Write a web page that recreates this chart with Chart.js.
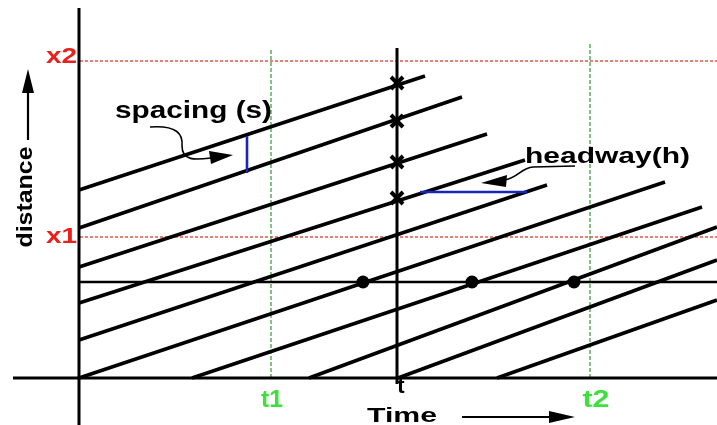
<!DOCTYPE html>
<html>
<head>
<meta charset="utf-8">
<script src="https://cdn.jsdelivr.net/npm/chart.js@4/dist/chart.umd.min.js"></script>
<style>
html,body{margin:0;padding:0;background:#fff;}
#wrap{width:717px;height:425px;}
canvas{display:block;}
</style>
</head>
<body>
<div id="wrap"><canvas id="c" width="717" height="425"></canvas></div>
<script>
// ---- data (time units, distance units) ----
const vehStartT = [0, 0, 0, 0, 0, 0, 11.3, 23.0, 31.9, 41.8];
const vehStartD = [18.8, 15.0, 11.1, 7.5, 3.8, 0, 0, 0, 0, 0];
const vehEndT   = [34.6, 38.3, 40.8, 44.6, 46.8, 58.6, 62.3, 63.8, 63.8, 63.8];
const vehEndD   = [30.2, 28.1, 24.4, 21.8, 19.3, 19.6, 17.1, 15.1, 11.8, 7.8];

const timeLabels = ['t1', 't', 't2'];
const timeValues = [19.2, 31.8, 51.1];
const distLabels = ['x1', 'x2'];
const distValues = [14.1, 31.7];

const refDistance = 9.6;              // horizontal observation line
const dotTimes = [28.4, 39.3, 49.5];  // crossings of the observation line
const crossDists = [29.5, 25.7, 21.6, 18.0]; // crossings at time t

const spacingT = 16.8;
const spacingD = [20.5, 24.2];
const headwayD = 18.6;
const headwayT = [34.1, 44.8];

const timeRange = [-7.9, 63.8];
const distRange = [-4.7, 37.8];
const axisTimeExtent = [-6.6, 63.8];
const axisDistExtent = [-4.7, 37.0];
const markerTop = [33.0, 33.0, 33.5]; // top of the t-lines (t1, t, t2)

// ---- datasets ----
const datasets = [];
const lineDs = (pts, color, width, dash, order) => ({
  type: 'line', data: pts, borderColor: color, borderWidth: width,
  borderDash: dash || [], pointRadius: 0, fill: false, tension: 0,
  showLine: true, order: order, borderCapStyle: 'butt'
});

// axes
datasets.push(lineDs([{x: axisTimeExtent[0], y: 0}, {x: axisTimeExtent[1], y: 0}], '#000', 3, null, 5));
datasets.push(lineDs([{x: 0, y: axisDistExtent[0]}, {x: 0, y: axisDistExtent[1]}], '#000', 3, null, 5));

// reference distance lines x1, x2 (red dashed)
distValues.forEach(v => datasets.push(lineDs([{x: 0.1, y: v}, {x: timeRange[1], y: v}], '#e2554a', 1.3, [3, 2], 9)));

// time lines t1, t2 (green dashed), t (black)
timeValues.forEach((v, i) => {
  if (timeLabels[i] === 't') {
    datasets.push(lineDs([{x: v, y: -0.6}, {x: v, y: markerTop[i]}], '#000', 3, null, 4));
  } else {
    datasets.push(lineDs([{x: v, y: 0}, {x: v, y: markerTop[i]}], '#2f9a2f', 1.2, [4, 2], 8));
  }
});

// observation line
datasets.push(lineDs([{x: 0, y: refDistance}, {x: timeRange[1], y: refDistance}], '#000', 2.4, null, 6));

// vehicle trajectories
vehStartT.forEach((t0, i) => {
  datasets.push(lineDs([{x: t0, y: vehStartD[i]}, {x: vehEndT[i], y: vehEndD[i]}], '#000', 3.6, null, 3));
});

// spacing & headway (blue)
datasets.push(lineDs([{x: spacingT, y: spacingD[0]}, {x: spacingT, y: spacingD[1]}], '#1c24b8', 2.6, null, 2));
datasets.push(lineDs([{x: headwayT[0], y: headwayD}, {x: headwayT[1], y: headwayD}], '#1c24b8', 2.6, null, 2));

// dots on observation line
datasets.push({type: 'scatter', data: dotTimes.map(t => ({x: t, y: refDistance})),
  pointRadius: 6.5, pointBackgroundColor: '#000', pointBorderColor: '#000', pointBorderWidth: 0, showLine: false, order: 1});
// crosses at time t
datasets.push({type: 'scatter', data: crossDists.map(d => ({x: timeValues[1], y: d})),
  pointStyle: 'crossRot', pointRadius: 8.5, pointBorderColor: '#000', pointBorderWidth: 4, showLine: false, order: 1});

// ---- annotation plugin ----
const FONT = '"Liberation Sans", Arial, sans-serif';
function txt(ctx, s, x, y, size, color, width, align, base) {
  ctx.save();
  ctx.font = 'bold ' + size + 'px ' + FONT;
  ctx.fillStyle = color;
  ctx.textBaseline = base || 'alphabetic';
  const w = ctx.measureText(s).width;
  const sx = width ? width / w : 1;
  ctx.translate(x, y);
  ctx.scale(sx, 1);
  let ox = 0;
  if (align === 'center') ox = -w / 2;
  else if (align === 'right') ox = -w;
  ctx.fillText(s, ox, 0);
  ctx.restore();
}
function head(ctx, tip, b1, b2) {
  ctx.beginPath(); ctx.moveTo(tip[0], tip[1]); ctx.lineTo(b1[0], b1[1]); ctx.lineTo(b2[0], b2[1]); ctx.closePath(); ctx.fill();
}

const annot = {
  id: 'annot',
  afterDatasetsDraw(chart) {
    const ctx = chart.ctx;
    const xs = chart.scales.x, ys = chart.scales.y;
    const X = v => xs.getPixelForValue(v), Y = v => ys.getPixelForValue(v);
    const x0 = X(0), y0 = Y(0);

    // distance labels
    distLabels.forEach((l, i) => {
      const off = l === 'x2' ? -4 : 0;
      txt(ctx, l, x0 - 2, Y(distValues[i]) + off, 22, '#e8211c', 31, 'right', 'middle');
    });
    // time labels
    timeLabels.forEach((l, i) => {
      if (l === 't') txt(ctx, l, X(timeValues[i]) + 4, y0 + 15, 22, '#000', null, 'center');
      else txt(ctx, l, X(timeValues[i]) + (l === 't2' ? 6 : 1), y0 + 29, 23, '#3ee03e', l === 't2' ? 27 : 22, 'center');
    });

    // axis titles
    txt(ctx, 'Time', x0 + 288, y0 + 44, 21, '#000', 70, 'left');
    ctx.save();
    ctx.strokeStyle = '#000'; ctx.fillStyle = '#000'; ctx.lineWidth = 2.2;
    ctx.beginPath(); ctx.moveTo(x0 + 383, y0 + 39); ctx.lineTo(x0 + 475, y0 + 39); ctx.stroke();
    head(ctx, [x0 + 496, y0 + 39], [x0 + 470, y0 + 33], [x0 + 470, y0 + 45]);
    ctx.restore();

    ctx.save();
    ctx.translate(x0 - 53, Y(18.1));
    ctx.rotate(-Math.PI / 2);
    txt(ctx, 'distance', 0, 0, 22, '#000', 101, 'center', 'middle');
    ctx.restore();
    ctx.save();
    ctx.strokeStyle = '#000'; ctx.fillStyle = '#000'; ctx.lineWidth = 2.2;
    ctx.beginPath(); ctx.moveTo(x0 - 51, y0 - 238); ctx.lineTo(x0 - 51, y0 - 290); ctx.stroke();
    head(ctx, [x0 - 51, y0 - 309], [x0 - 57, y0 - 285], [x0 - 45, y0 - 285]);
    ctx.restore();

    // spacing label and curved arrow
    const sA = [X(spacingT), Y(spacingD[1])];
    txt(ctx, 'spacing (s)', sA[0] - 132, sA[1] - 18, 23, '#000', 157, 'left');
    ctx.save();
    ctx.strokeStyle = '#000'; ctx.fillStyle = '#000'; ctx.lineWidth = 1.6;
    ctx.beginPath();
    ctx.moveTo(sA[0] - 97, sA[1] - 9);
    ctx.bezierCurveTo(sA[0] - 70, sA[1] - 11, sA[0] - 64, sA[1] - 2, sA[0] - 65, sA[1] + 10);
    ctx.bezierCurveTo(sA[0] - 65, sA[1] + 25, sA[0] - 52, sA[1] + 24, sA[0] - 36, sA[1] + 22);
    ctx.stroke();
    head(ctx, [sA[0] - 14, sA[1] + 19], [sA[0] - 38, sA[1] + 15], [sA[0] - 36, sA[1] + 28]);
    ctx.restore();

    // headway label and curved arrow
    const hA = [X(headwayT[1]), Y(headwayD)];
    txt(ctx, 'headway(h)', hA[0] - 2, hA[1] - 29, 22, '#000', 165, 'left');
    ctx.save();
    ctx.strokeStyle = '#000'; ctx.fillStyle = '#000'; ctx.lineWidth = 1.6;
    ctx.beginPath();
    ctx.moveTo(hA[0] + 48, hA[1] - 26);
    ctx.lineTo(hA[0] + 6, hA[1] - 25);
    ctx.bezierCurveTo(hA[0] - 6, hA[1] - 24, hA[0] - 8, hA[1] - 15, hA[0] - 22, hA[1] - 12);
    ctx.stroke();
    head(ctx, [hA[0] - 46, hA[1] - 9], [hA[0] - 20, hA[1] - 17], [hA[0] - 21, hA[1] - 5]);
    ctx.restore();
  }
};

const bg = {
  id: 'bg',
  beforeDraw(chart) {
    const c = chart.ctx; c.save(); c.fillStyle = '#fff'; c.fillRect(0, 0, chart.width, chart.height); c.restore();
  }
};

new Chart(document.getElementById('c'), {
  type: 'scatter',
  data: {datasets},
  options: {
    responsive: false,
    animation: false,
    devicePixelRatio: 1,
    layout: {padding: 0, autoPadding: false},
    plugins: {legend: {display: false}, tooltip: {enabled: false}, title: {display: false}},
    scales: {
      x: {type: 'linear', display: false, min: timeRange[0], max: timeRange[1]},
      y: {type: 'linear', display: false, min: distRange[0], max: distRange[1]}
    },
    elements: {line: {borderJoinStyle: 'miter'}}
  },
  plugins: [bg, annot]
});
</script>
</body>
</html>
